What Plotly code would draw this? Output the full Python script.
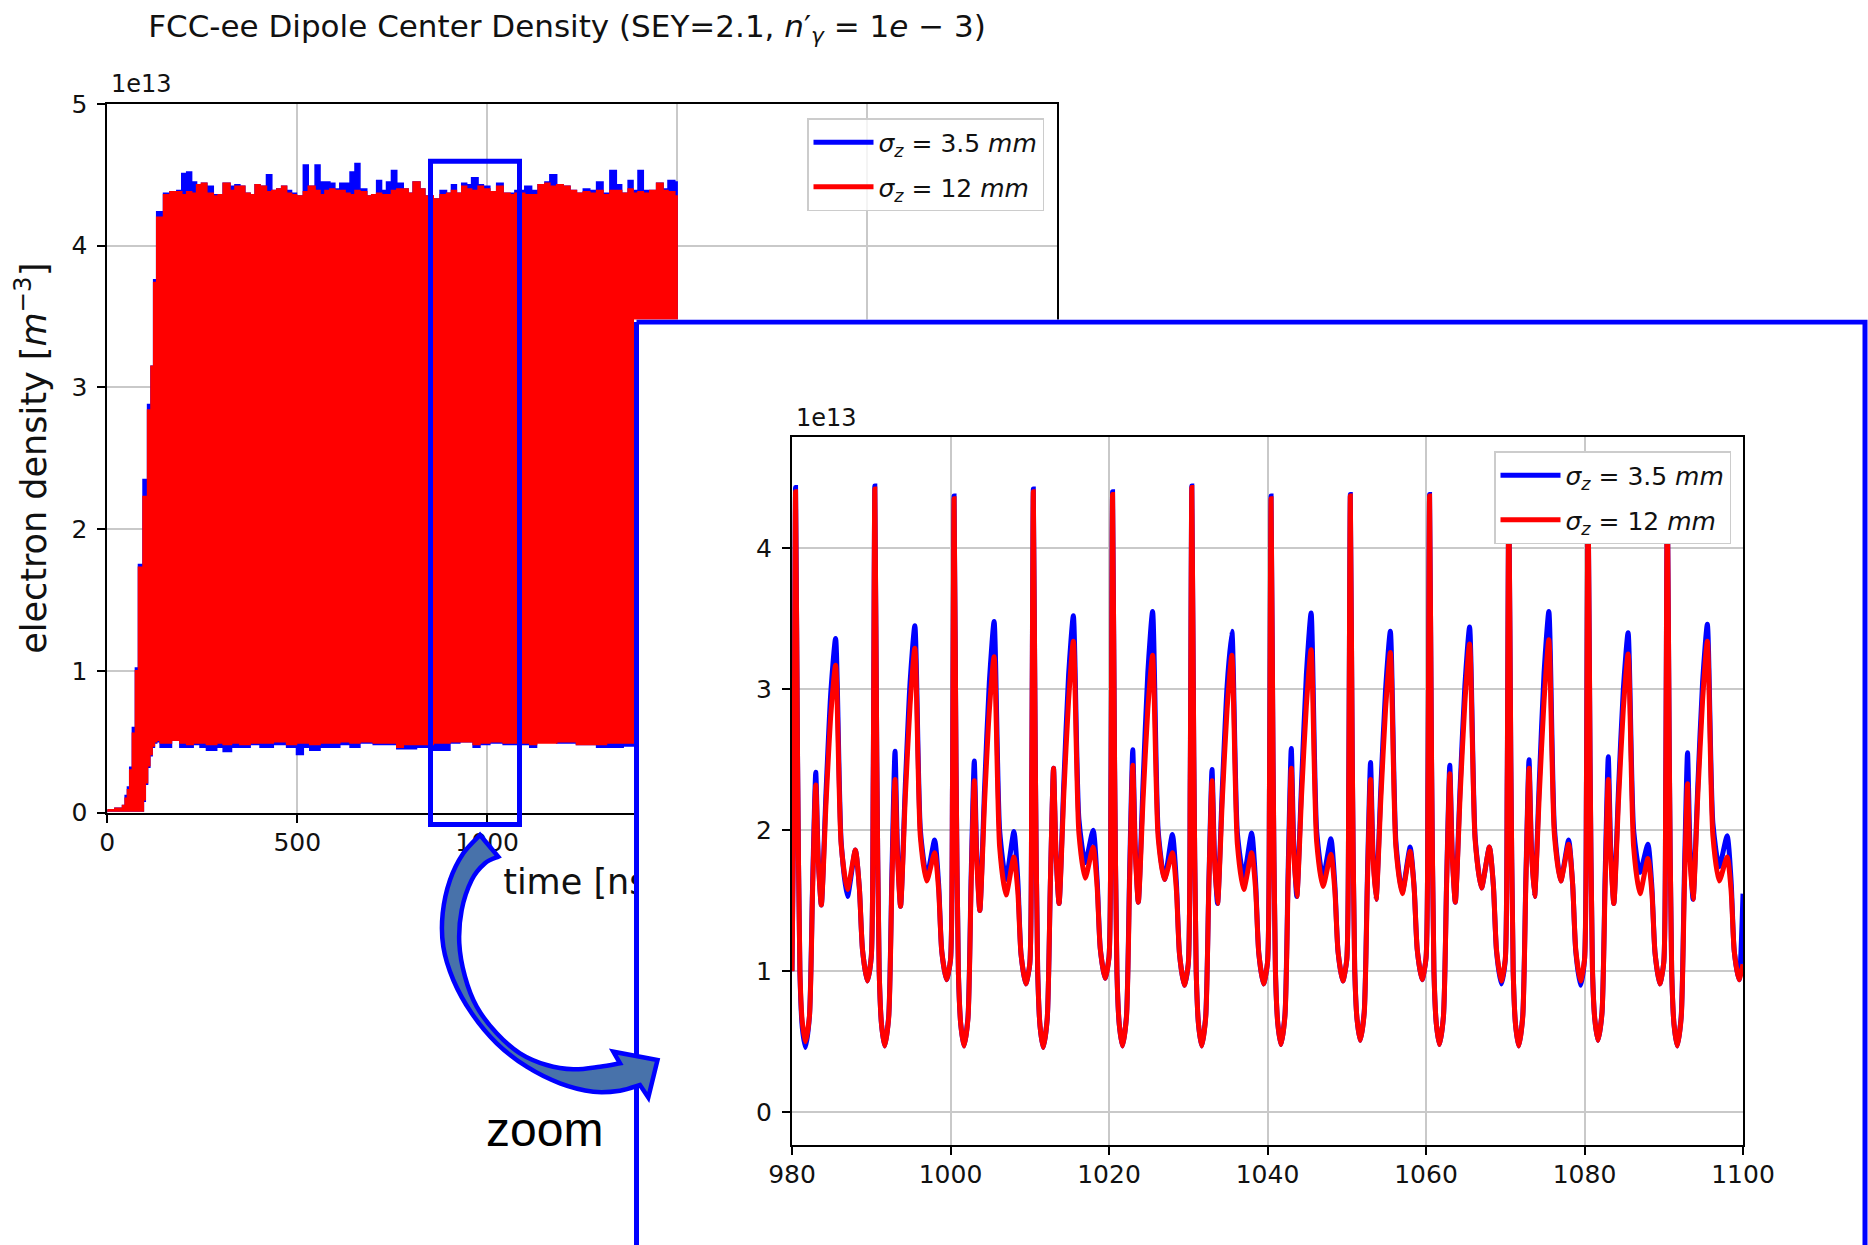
import plotly.graph_objects as go

W, H = 1868, 1245

# ---------------- main plot: envelopes of the fast oscillation (units of 1e13 m^-3) ----------------
T_UP = [0, 20, 40, 47, 53, 59, 66, 74, 82, 94, 106, 115, 122, 130,
        148, 165, 183, 196, 209, 222, 235, 248, 262, 279,
        292, 305, 323, 336, 349, 362, 376, 389, 402, 419,
        433, 446, 459, 472, 485, 498, 516, 529, 547, 560,
        573, 586, 599, 612, 626, 639, 652, 665, 683, 696,
        709, 722, 735, 748, 762,
        779, 792, 805, 823, 836, 858, 876, 893, 906, 919,
        933, 946, 959, 976, 990, 1007, 1025, 1042, 1060, 1073,
        1099, 1117, 1134, 1152, 1165, 1183, 1200, 1218, 1235, 1253,
        1270, 1288, 1305, 1323, 1340, 1354, 1371, 1384, 1397, 1411,
        1428, 1446, 1463, 1476, 1494, 1500]
RED_UP = [0.02, 0.03, 0.05, 0.10, 0.16, 0.30, 0.56, 1.00, 1.73, 2.23, 2.84, 3.15, 3.74, 4.20,
          4.36, 4.38, 4.38, 4.36, 4.38, 4.37, 4.43, 4.44, 4.37, 4.35,
          4.36, 4.44, 4.39, 4.42, 4.42, 4.37, 4.36, 4.43, 4.42, 4.38,
          4.39, 4.40, 4.42, 4.37, 4.36, 4.35, 4.38, 4.42, 4.39, 4.36,
          4.39, 4.40, 4.39, 4.39, 4.37, 4.36, 4.39, 4.38, 4.35, 4.36,
          4.37, 4.36, 4.36, 4.39, 4.40,
          4.40, 4.37, 4.45, 4.40, 4.35, 4.33, 4.36, 4.37, 4.39, 4.37,
          4.42, 4.40, 4.39, 4.42, 4.40, 4.38, 4.42, 4.37, 4.36, 4.37,
          4.36, 4.36, 4.43, 4.44, 4.42, 4.43, 4.42, 4.39, 4.37, 4.38,
          4.37, 4.39, 4.36, 4.39, 4.39, 4.37, 4.40, 4.37, 4.38, 4.37,
          4.39, 4.44, 4.39, 4.38, 4.35, 4.35]
BLUE_UP = [0.02, 0.03, 0.05, 0.12, 0.18, 0.32, 0.60, 1.02, 1.75, 2.35, 2.88, 3.15, 3.76, 4.24,
           4.37, 4.38, 4.39, 4.51, 4.52, 4.45, 4.43, 4.44, 4.42, 4.36,
           4.36, 4.44, 4.42, 4.43, 4.42, 4.37, 4.36, 4.43, 4.42, 4.50,
           4.39, 4.40, 4.42, 4.39, 4.37, 4.35, 4.57, 4.42, 4.57, 4.45,
           4.45, 4.44, 4.40, 4.44, 4.44, 4.52, 4.58, 4.40, 4.35, 4.36,
           4.46, 4.39, 4.45, 4.53, 4.44,
           4.40, 4.37, 4.45, 4.40, 4.35, 4.33, 4.39, 4.37, 4.43, 4.37,
           4.44, 4.43, 4.48, 4.43, 4.42, 4.38, 4.44, 4.37, 4.37, 4.39,
           4.42, 4.39, 4.43, 4.45, 4.50, 4.43, 4.42, 4.39, 4.37, 4.40,
           4.39, 4.45, 4.37, 4.53, 4.43, 4.37, 4.46, 4.39, 4.53, 4.39,
           4.39, 4.44, 4.40, 4.46, 4.45, 4.44]

T_LOW = [0, 95, 100, 106, 112, 118, 124, 130,
         139, 156, 169, 191, 209, 226, 244, 261,
         288, 305, 327, 349, 376, 402, 437, 472,
         498, 516, 533, 560, 586, 612, 639, 665,
         700, 726, 762, 779, 814, 858, 902, 928,
         963, 981, 1007, 1042, 1112, 1130, 1183, 1235,
         1288, 1314, 1358, 1400, 1450, 1500]
RED_LOW = [0.0, 0.01, 0.09, 0.21, 0.33, 0.41, 0.47, 0.50,
           0.51, 0.49, 0.49, 0.51, 0.49, 0.48, 0.49, 0.49,
           0.48, 0.49, 0.48, 0.49, 0.48, 0.49, 0.49, 0.50,
           0.48, 0.49, 0.49, 0.48, 0.49, 0.49, 0.50, 0.49,
           0.50, 0.49, 0.49, 0.46, 0.48, 0.48, 0.49, 0.50,
           0.50, 0.48, 0.49, 0.50, 0.49, 0.48, 0.49, 0.50,
           0.48, 0.48, 0.49, 0.49, 0.49, 0.49]
BLUE_LOW = [0.0, 0.01, 0.08, 0.20, 0.32, 0.40, 0.46, 0.49,
            0.50, 0.46, 0.46, 0.51, 0.46, 0.46, 0.48, 0.46,
            0.44, 0.46, 0.43, 0.46, 0.46, 0.48, 0.46, 0.48,
            0.46, 0.41, 0.46, 0.44, 0.46, 0.46, 0.48, 0.46,
            0.49, 0.48, 0.48, 0.45, 0.45, 0.46, 0.44, 0.49,
            0.50, 0.46, 0.48, 0.49, 0.48, 0.46, 0.51, 0.49,
            0.48, 0.46, 0.46, 0.47, 0.47, 0.47]

# ---------------- zoomed window 980-1100 ns: one row of samples per 10 ns bunch period ----------------
PERIOD_START = [980, 990, 1000, 1010, 1020, 1030, 1040, 1050, 1060, 1070, 1080, 1090]
OFFSETS = [0.0, 0.25, 0.45, 0.7, 1.0, 1.3, 1.7, 2.2, 2.6, 3.0, 3.3,
           3.7, 4.3, 4.9, 5.5, 6.2, 7.0, 8.0, 8.5, 8.9, 9.5]
RED_ZOOM = [
    [1.00, 2.30, 4.40, 2.50, 1.00, 0.64, 0.50, 0.68, 1.58, 2.32, 1.80, 1.47, 2.20, 2.82, 3.17, 1.90, 1.58, 1.86, 1.59, 1.15, 0.93],
    [1.10, 2.35, 4.42, 2.50, 1.00, 0.62, 0.47, 0.67, 1.60, 2.36, 1.82, 1.46, 2.24, 2.89, 3.29, 1.95, 1.64, 1.84, 1.58, 1.14, 0.94],
    [1.08, 2.30, 4.35, 2.45, 0.98, 0.62, 0.47, 0.66, 1.60, 2.35, 1.80, 1.43, 2.20, 2.85, 3.23, 1.88, 1.54, 1.81, 1.56, 1.12, 0.91],
    [1.05, 2.35, 4.40, 2.50, 1.00, 0.61, 0.46, 0.66, 1.62, 2.44, 1.85, 1.48, 2.26, 2.92, 3.34, 1.98, 1.66, 1.88, 1.60, 1.16, 0.95],
    [1.10, 2.30, 4.38, 2.48, 0.99, 0.62, 0.47, 0.67, 1.63, 2.46, 1.86, 1.49, 2.22, 2.86, 3.24, 1.95, 1.65, 1.84, 1.58, 1.12, 0.90],
    [1.05, 2.35, 4.43, 2.52, 1.00, 0.62, 0.47, 0.67, 1.60, 2.35, 1.80, 1.48, 2.22, 2.86, 3.24, 1.90, 1.58, 1.84, 1.58, 1.13, 0.91],
    [1.06, 2.30, 4.35, 2.48, 1.00, 0.63, 0.48, 0.68, 1.62, 2.44, 1.86, 1.53, 2.25, 2.88, 3.28, 1.92, 1.60, 1.83, 1.57, 1.14, 0.93],
    [1.08, 2.32, 4.37, 2.48, 1.02, 0.66, 0.51, 0.70, 1.60, 2.36, 1.82, 1.51, 2.22, 2.86, 3.26, 1.88, 1.55, 1.85, 1.59, 1.15, 0.94],
    [1.09, 2.32, 4.37, 2.48, 1.00, 0.63, 0.48, 0.68, 1.61, 2.40, 1.83, 1.49, 2.24, 2.90, 3.32, 1.93, 1.59, 1.88, 1.61, 1.15, 0.93],
    [1.08, 2.35, 4.40, 2.50, 1.00, 0.62, 0.47, 0.67, 1.62, 2.44, 1.86, 1.53, 2.26, 2.92, 3.35, 1.97, 1.64, 1.90, 1.62, 1.15, 0.93],
    [1.08, 2.35, 4.40, 2.50, 1.02, 0.66, 0.51, 0.70, 1.60, 2.36, 1.82, 1.48, 2.22, 2.86, 3.25, 1.88, 1.55, 1.80, 1.56, 1.13, 0.91],
    [1.06, 2.35, 4.42, 2.52, 1.00, 0.62, 0.47, 0.67, 1.58, 2.33, 1.80, 1.51, 2.25, 2.92, 3.34, 1.96, 1.64, 1.81, 1.57, 1.14, 0.94],
]
BLUE_ZOOM = [
    [1.00, 2.35, 4.43, 2.52, 0.98, 0.60, 0.46, 0.68, 1.62, 2.41, 1.82, 1.47, 2.28, 2.98, 3.36, 1.92, 1.53, 1.86, 1.59, 1.15, 0.93],
    [1.10, 2.38, 4.44, 2.52, 1.00, 0.62, 0.47, 0.68, 1.68, 2.56, 1.88, 1.46, 2.32, 3.05, 3.45, 2.00, 1.67, 1.93, 1.62, 1.14, 0.94],
    [1.08, 2.32, 4.37, 2.46, 0.98, 0.62, 0.47, 0.67, 1.66, 2.49, 1.85, 1.43, 2.30, 3.05, 3.48, 2.00, 1.65, 1.99, 1.64, 1.12, 0.91],
    [1.05, 2.37, 4.42, 2.52, 1.00, 0.61, 0.46, 0.66, 1.62, 2.44, 1.85, 1.48, 2.34, 3.10, 3.52, 2.08, 1.77, 2.00, 1.65, 1.16, 0.95],
    [1.10, 2.32, 4.40, 2.50, 0.99, 0.62, 0.47, 0.68, 1.70, 2.57, 1.90, 1.49, 2.34, 3.12, 3.55, 2.00, 1.65, 1.97, 1.63, 1.12, 0.90],
    [1.05, 2.37, 4.44, 2.53, 1.00, 0.62, 0.47, 0.68, 1.63, 2.43, 1.84, 1.48, 2.30, 3.02, 3.41, 1.98, 1.67, 1.98, 1.63, 1.13, 0.91],
    [1.06, 2.32, 4.37, 2.50, 1.00, 0.63, 0.48, 0.69, 1.70, 2.58, 1.92, 1.53, 2.34, 3.10, 3.54, 2.00, 1.66, 1.94, 1.61, 1.14, 0.93],
    [1.08, 2.34, 4.38, 2.50, 1.02, 0.66, 0.51, 0.71, 1.65, 2.48, 1.86, 1.51, 2.30, 3.00, 3.41, 1.92, 1.56, 1.88, 1.60, 1.15, 0.94],
    [1.09, 2.34, 4.38, 2.50, 1.00, 0.63, 0.48, 0.68, 1.64, 2.46, 1.85, 1.49, 2.30, 3.02, 3.44, 1.95, 1.59, 1.88, 1.61, 1.14, 0.91],
    [1.08, 2.37, 4.41, 2.52, 1.00, 0.62, 0.47, 0.68, 1.66, 2.50, 1.88, 1.53, 2.35, 3.12, 3.55, 2.02, 1.64, 1.93, 1.62, 1.14, 0.90],
    [1.08, 2.37, 4.41, 2.52, 1.02, 0.66, 0.51, 0.70, 1.67, 2.52, 1.88, 1.48, 2.30, 3.00, 3.40, 2.00, 1.70, 1.90, 1.60, 1.13, 0.91],
    [1.06, 2.37, 4.43, 2.54, 1.00, 0.62, 0.47, 0.68, 1.68, 2.55, 1.90, 1.51, 2.32, 3.05, 3.46, 2.05, 1.74, 1.96, 1.64, 1.14, 0.94],
]
T_END = 1100
RED_END = 1.05
BLUE_END = 1.55

LABEL_BLUE = "<i>σ</i><sub><i>z</i></sub> = 3.5 <i>mm</i>"
LABEL_RED = "<i>σ</i><sub><i>z</i></sub> = 12 <i>mm</i>"
MAIN_XTICKS = [0, 500, 1000, 1500, 2000, 2500]
MAIN_YTICKS = [0, 1, 2, 3, 4, 5]
ZOOM_XTICKS = [980, 1000, 1020, 1040, 1060, 1080, 1100]
ZOOM_YTICKS = [0, 1, 2, 3, 4]

assert len(T_UP) == len(RED_UP) == len(BLUE_UP)
assert len(T_LOW) == len(RED_LOW) == len(BLUE_LOW)

BLUE = "#0000ff"
RED = "#ff0000"
FONT = "DejaVu Sans"
TXT = "#111111"


def px(x):
    return x / W


def py(y):
    return 1 - y / H


# pixel geometry of the composite
MAIN_L, MAIN_R, MAIN_T, MAIN_B = 107.3, 1057.0, 104.0, 812.5
PANEL_L, PANEL_T = 634.0, 319.5
INS_L, INS_R, INS_T, INS_B = 792.0, 1743.0, 436.7, 1145.0

fig = go.Figure()

# --- subplot 1 (x, y): main plot, blue band then red band on top
for up, lo, col in [(BLUE_UP, BLUE_LOW, BLUE), (RED_UP, RED_LOW, RED)]:
    fig.add_trace(go.Scatter(
        x=T_UP + T_LOW[::-1], y=up + lo[::-1], mode="lines", fill="toself",
        fillcolor=col, line=dict(color=col, width=1.5, shape="hv"),
        showlegend=False, hoverinfo="skip", xaxis="x", yaxis="y"))

for name, col, grp in [(LABEL_BLUE, BLUE, "mb"), (LABEL_RED, RED, "mr")]:
    fig.add_trace(go.Scatter(x=[None], y=[None], mode="lines", name=name,
                             line=dict(color=col, width=5), legend="legend",
                             legendgroup=grp, xaxis="x", yaxis="y"))

# --- subplot 2 (x2, y2): holder for the main x-axis title, so that the panel can hide its tail
fig.add_trace(go.Scatter(x=[1250], y=[0.5], mode="text", text=["time [ns]"],
                         textfont=dict(size=35, family=FONT, color=TXT),
                         textposition="middle center",
                         showlegend=False, hoverinfo="skip", xaxis="x2", yaxis="y2"))

# --- subplot 3 (x3, y3): white panel with blue frame, drawn over the main plot
fig.add_trace(go.Scatter(x=[636.5, 1865, 1865, 636.5, 636.5],
                         y=[322, 322, 1260, 1260, 322], mode="lines",
                         line=dict(color=BLUE, width=5), showlegend=False,
                         hoverinfo="skip", xaxis="x3", yaxis="y3"))

# --- subplot 4 (x4, y4): zoomed curves
zx = [s + o for s in PERIOD_START for o in OFFSETS] + [T_END]
zb = [v for row in BLUE_ZOOM for v in row] + [BLUE_END]
zr = [v for row in RED_ZOOM for v in row] + [RED_END]
fig.add_trace(go.Scatter(x=zx, y=zb, mode="lines", name=LABEL_BLUE,
                         line=dict(color=BLUE, width=5, shape="spline", smoothing=0.6),
                         legend="legend2", legendgroup="zb", xaxis="x4", yaxis="y4"))
fig.add_trace(go.Scatter(x=zx, y=zr, mode="lines", name=LABEL_RED,
                         line=dict(color=RED, width=5, shape="spline", smoothing=0.6),
                         legend="legend2", legendgroup="zr", xaxis="x4", yaxis="y4"))

ax = dict(showline=True, linecolor="black", linewidth=2, mirror=True,
          ticks="outside", ticklen=8, tickwidth=2, tickcolor="black",
          showgrid=True, gridcolor="#c9c9c9", gridwidth=1.5, zeroline=False,
          tickfont=dict(size=25, family=FONT, color=TXT), fixedrange=True)
hidden = dict(visible=False, fixedrange=True, showgrid=False, zeroline=False)

fig.update_layout(
    width=W, height=H,
    margin=dict(l=0, r=0, t=0, b=0, autoexpand=False),
    paper_bgcolor="white", plot_bgcolor="white",
    font=dict(family=FONT, color=TXT, size=25),
    title=dict(text="FCC-ee Dipole Center Density (SEY=2.1, <i>n</i>′<sub><i>γ</i></sub> = 1<i>e</i> − 3)",
               x=px(567), xanchor="center", y=py(26), yanchor="middle",
               font=dict(size=31, family=FONT, color=TXT)),
    xaxis=dict(ax, anchor="y", domain=[px(MAIN_L), px(MAIN_R)], range=[0, 2500],
               tickvals=MAIN_XTICKS, ticklabelstandoff=-2),
    yaxis=dict(ax, anchor="x", domain=[py(MAIN_B), py(MAIN_T)], range=[0, 5],
               tickvals=MAIN_YTICKS, ticklabelstandoff=5,
               title=dict(text="electron density [<i>m</i><sup>−3</sup>]",
                          font=dict(size=35, family=FONT, color=TXT), standoff=14)),
    xaxis2=dict(hidden, anchor="y2", domain=[px(MAIN_L), px(MAIN_R)], range=[0, 2500]),
    yaxis2=dict(hidden, anchor="x2", domain=[py(915), py(855)], range=[0, 1]),
    xaxis3=dict(hidden, anchor="y3", domain=[px(PANEL_L), 1], range=[PANEL_L, W]),
    yaxis3=dict(hidden, anchor="x3", domain=[0, py(PANEL_T)], range=[H, PANEL_T]),
    xaxis4=dict(ax, anchor="y4", domain=[px(INS_L), px(INS_R)], range=[980, 1100],
                tickvals=ZOOM_XTICKS, ticklabelstandoff=-2),
    yaxis4=dict(ax, anchor="x4", domain=[py(INS_B), py(INS_T)], range=[-0.232, 4.79],
                tickvals=ZOOM_YTICKS, ticklabelstandoff=5),
    legend=dict(x=px(1044), y=py(118), xanchor="right", yanchor="top",
                bgcolor="rgba(255,255,255,0.8)", bordercolor="#cccccc", borderwidth=1.5,
                font=dict(size=25, family=FONT, color=TXT), tracegroupgap=9,
                traceorder="grouped", itemwidth=60),
    legend2=dict(x=px(1731), y=py(451), xanchor="right", yanchor="top",
                 bgcolor="white", bordercolor="#cccccc", borderwidth=1.5,
                 font=dict(size=25, family=FONT, color=TXT), tracegroupgap=9,
                 traceorder="grouped", itemwidth=60),
    showlegend=True,
)

# "1e13" offset labels
for cx, cy in [(141, 83.5), (826, 418)]:
    fig.add_annotation(x=px(cx), y=py(cy), xref="paper", yref="paper", text="1e13",
                       xanchor="center", yanchor="middle", showarrow=False,
                       font=dict(size=24, family=FONT, color=TXT))

# highlight rectangle on the main plot
fig.add_shape(type="rect", xref="paper", yref="paper",
              x0=px(430.5), x1=px(519.5), y0=py(824.5), y1=py(161.3),
              line=dict(color=BLUE, width=5), fillcolor="rgba(0,0,0,0)", layer="above")


# curved block arrow
def bez(points):
    out = []
    n = len(points)
    for i in range(n - 1):
        p0 = points[i - 1] if i > 0 else points[i]
        p1, p2 = points[i], points[i + 1]
        p3 = points[i + 2] if i + 2 < n else points[i + 1]
        c1 = (p1[0] + (p2[0] - p0[0]) / 6, p1[1] + (p2[1] - p0[1]) / 6)
        c2 = (p2[0] - (p3[0] - p1[0]) / 6, p2[1] - (p3[1] - p1[1]) / 6)
        out.append((c1, c2, p2))
    return out


def P(p):
    return f"{px(p[0]):.5f},{py(p[1]):.5f}"


outer = [(480, 835), (463.3, 853.3), (450, 880), (442.7, 913.3), (443.3, 946.7),
         (453.3, 980), (471.7, 1013.3), (496.7, 1043.3), (526.7, 1066.7), (560, 1083.3),
         (593.3, 1091.7), (620, 1090.7), (640, 1085)]
head = [(648.3, 1097.5), (657.5, 1060), (613.3, 1051.7)]
inner = [(620, 1063.3), (600, 1066.7), (573.3, 1069.3), (546.7, 1065), (520, 1053.3),
         (496.7, 1033.3), (476.7, 1006.7), (465, 976.7), (459.3, 943.3), (461.7, 910),
         (471.7, 880), (485, 863.3), (498.3, 856.7)]
path = "M" + P(outer[0])
for c1, c2, p in bez(outer):
    path += f" C{P(c1)} {P(c2)} {P(p)}"
for p in head:
    path += " L" + P(p)
path += " L" + P(inner[0])
for c1, c2, p in bez(inner):
    path += f" C{P(c1)} {P(c2)} {P(p)}"
path += " Z"
fig.add_shape(type="path", xref="paper", yref="paper", path=path,
              fillcolor="#4872aa", line=dict(color=BLUE, width=4.5), layer="above")

fig.add_annotation(x=px(544.5), y=py(1129.5), xref="paper", yref="paper", text="zoom",
                   xanchor="center", yanchor="middle", showarrow=False,
                   font=dict(size=48, family="Liberation Sans", color="black"))

fig.write_html("out.html")
